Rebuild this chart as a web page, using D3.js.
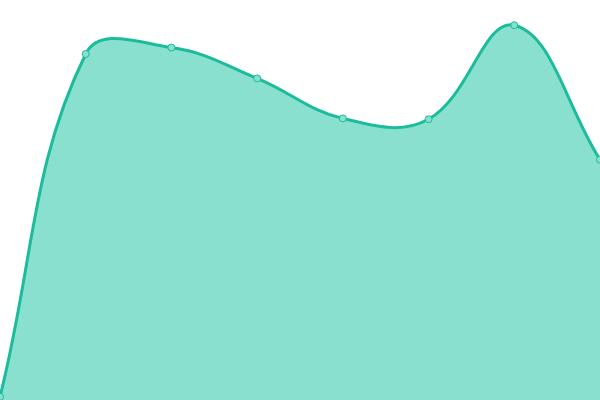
<!DOCTYPE html>
<html lang="en">
<head>
    <meta charset="UTF-8">
    <title>Area</title>
    <script src="https://d3js.org/d3.v7.min.js"></script>
    <style>
        html, body { margin: 0; padding: 0; background: #fff; }
        #chart { display: block; }
    </style>
</head>
<body>
    <svg id="chart"></svg>
    <script>
        const categories = ["A", "B", "C", "D", "E", "F", "G", "H"];
        const values = [0.8, 86.5, 88.1, 80.4, 70.4, 70.2, 93.7, 60.1];

        const width = 600;
        const height = 400;
        const tension = 0.4;
        const lineColor = "#1abc9c";
        const fillColor = "#89e0cf";

        const svg = d3.select("#chart").attr("width", width).attr("height", height);

        const x = d3.scalePoint().domain(categories).range([0, width]);
        const y = d3.scaleLinear().domain([0, 100]).range([height, 0]);

        // spline like chart.js: handles scaled by the neighbouring chord lengths
        function splineCurve(context) {
            return {
                _line: NaN,
                areaStart() { this._line = 0; },
                areaEnd() { this._line = NaN; },
                lineStart() { this._pts = []; },
                point(px, py) { this._pts.push([+px, +py]); },
                lineEnd() {
                    const p = this._pts;
                    const n = p.length;
                    if (n) {
                        if (this._line) context.lineTo(p[0][0], p[0][1]);
                        else context.moveTo(p[0][0], p[0][1]);
                    }
                    const cp = p.map((cur, i) => {
                        const prev = p[i - 1] || cur;
                        const next = p[i + 1] || cur;
                        const d01 = Math.hypot(cur[0] - prev[0], cur[1] - prev[1]);
                        const d12 = Math.hypot(next[0] - cur[0], next[1] - cur[1]);
                        let s01 = d01 / (d01 + d12);
                        let s12 = d12 / (d01 + d12);
                        if (isNaN(s01)) s01 = 0;
                        if (isNaN(s12)) s12 = 0;
                        const fa = tension * s01, fb = tension * s12;
                        const clampX = v => Math.max(0, Math.min(width, v));
                        const clampY = v => Math.max(0, Math.min(height, v));
                        return {
                            prev: [clampX(cur[0] - fa * (next[0] - prev[0])), clampY(cur[1] - fa * (next[1] - prev[1]))],
                            next: [clampX(cur[0] + fb * (next[0] - prev[0])), clampY(cur[1] + fb * (next[1] - prev[1]))]
                        };
                    });
                    for (let i = 1; i < n; i++) {
                        context.bezierCurveTo(cp[i - 1].next[0], cp[i - 1].next[1],
                            cp[i].prev[0], cp[i].prev[1], p[i][0], p[i][1]);
                    }
                    if (this._line === 1) context.closePath();
                    this._line = 1 - this._line;
                }
            };
        }

        const data = categories.map((c, i) => ({ cat: c, val: values[i] }));

        const area = d3.area()
            .x(d => x(d.cat))
            .y0(y(0))
            .y1(d => y(d.val))
            .curve(splineCurve);

        const line = d3.line()
            .x(d => x(d.cat))
            .y(d => y(d.val))
            .curve(splineCurve);

        svg.append("path")
            .datum(data)
            .attr("d", area)
            .attr("fill", fillColor);

        svg.append("path")
            .datum(data)
            .attr("d", line)
            .attr("fill", "none")
            .attr("stroke", lineColor)
            .attr("stroke-width", 3);

        svg.selectAll(".dot")
            .data(data)
            .enter().append("circle")
            .attr("class", "dot")
            .attr("cx", d => x(d.cat))
            .attr("cy", d => y(d.val))
            .attr("r", 3.5)
            .attr("fill", fillColor)
            .attr("stroke", lineColor)
            .attr("stroke-width", 1);
    </script>
</body>
</html>
